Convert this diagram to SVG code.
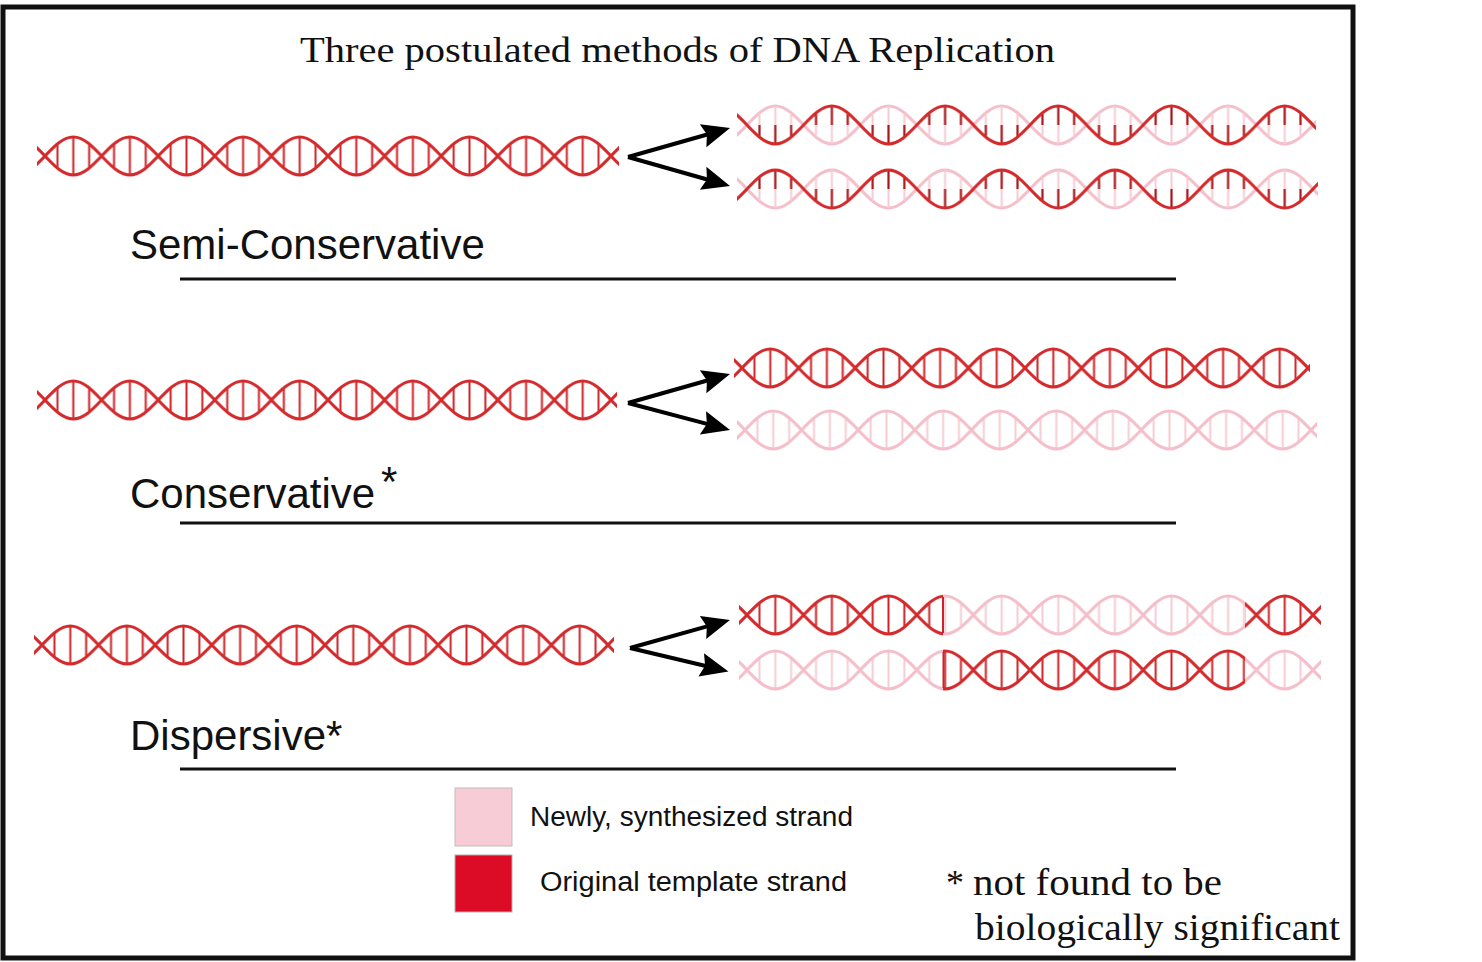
<svg xmlns="http://www.w3.org/2000/svg" width="1482" height="962" viewBox="0 0 1482 962">
<style>
.sr{stroke:#d42a2c;stroke-width:3;fill:none}
.sp{stroke:#f4bfca;stroke-width:3;fill:none}
.rr{stroke:#cf2226;stroke-width:2;fill:none}
.rd{stroke:#a81418;stroke-width:2.2;fill:none}
.rp{stroke:#f6cbd4;stroke-width:2;fill:none}
.lbl{font-family:"Liberation Sans",Arial,sans-serif;font-size:42px;fill:#111}
.leg{font-family:"Liberation Sans",Arial,sans-serif;font-size:27px;fill:#111}
.ser{font-family:"Liberation Serif","Times New Roman",serif;fill:#111}
.rule{stroke:#111;stroke-width:3}
.arr{stroke:#000;stroke-width:4;fill:none;marker-end:url(#ah)}
</style>
<defs>
<marker id="ah" markerUnits="userSpaceOnUse" markerWidth="32" markerHeight="26" refX="8" refY="12" orient="auto">
<path d="M0,0 L28,12 L0,24 L4,12 z" fill="#000"/>
</marker>
<path id="sA" d="M -28.3,-19 C -18.089,-19 -9.458,-9.977 0,0 S 18.089,19 28.3,19 S 47.142,9.977 56.6,0 S 74.689,-19 84.9,-19 S 103.742,-9.977 113.2,0 S 131.289,19 141.5,19"/>
<path id="sB" d="M -28.3,19 C -18.089,19 -9.458,9.977 0,0 S 18.089,-19 28.3,-19 S 47.142,-9.977 56.6,0 S 74.689,19 84.9,19 S 103.742,9.977 113.2,0 S 131.289,-19 141.5,-19"/>
<path id="rungs" d="M12.45,-12.1V12.1 M28.3,-19V19 M44.15,-12.1V12.1 M69.05,-12.1V12.1 M84.9,-19V19 M100.75,-12.1V12.1"/>
<path id="rungsA" d="M12.45,0V12.1 M28.3,0V19 M44.15,0V12.1 M69.05,0V-12.1 M84.9,0V-19 M100.75,0V-12.1"/>
<path id="rungsB" d="M12.45,0V-12.1 M28.3,0V-19 M44.15,0V-12.1 M69.05,0V12.1 M84.9,0V19 M100.75,0V12.1"/>
<pattern id="pRed" patternUnits="userSpaceOnUse" x="0" y="-30" width="113.2" height="60">
<g transform="translate(0,30)"><use href="#rungs" class="rr"/><use href="#sB" class="sr"/><use href="#sA" class="sr"/></g>
</pattern>
<pattern id="pPink" patternUnits="userSpaceOnUse" x="0" y="-30" width="113.2" height="60">
<g transform="translate(0,30)"><use href="#rungs" class="rp"/><use href="#sB" class="sp"/><use href="#sA" class="sp"/></g>
</pattern>
<pattern id="pSemi" patternUnits="userSpaceOnUse" x="0" y="-30" width="113.2" height="60">
<g transform="translate(0,30)"><use href="#sB" class="sp"/><use href="#rungsB" class="rp"/><use href="#rungsA" class="rd"/><use href="#sA" class="sr"/></g>
</pattern>
</defs>
<rect x="0" y="0" width="1482" height="962" fill="#fff"/>
<rect id="frame" x="3" y="7" width="1350" height="951" fill="#fff" stroke="#111" stroke-width="5"/>
<text id="title" class="ser" x="300" y="62" font-size="35" textLength="755" lengthAdjust="spacingAndGlyphs">Three postulated methods of DNA Replication</text>

<g id="semi-original" transform="translate(45,156)"><rect x="-8" y="-30" width="582" height="60" fill="url(#pRed)"/></g>
<g id="semi-daughter-1" transform="translate(747,125)"><rect x="-10" y="-30" width="579" height="60" fill="url(#pSemi)"/></g>
<g id="semi-daughter-2" transform="translate(747,189) scale(1,-1)"><rect x="-10" y="-30" width="581" height="60" fill="url(#pSemi)"/></g>
<g id="semi-label"><text class="lbl" x="130" y="259">Semi-Conservative</text><line class="rule" x1="180" y1="279" x2="1176" y2="279"/></g>

<g id="cons-original" transform="translate(45,400)"><rect x="-8" y="-30" width="580" height="60" fill="url(#pRed)"/></g>
<g id="cons-daughter-1" transform="translate(742,368)"><rect x="-8" y="-30" width="576" height="60" fill="url(#pRed)"/></g>
<g id="cons-daughter-2" transform="translate(745,430)"><rect x="-8" y="-30" width="580" height="60" fill="url(#pPink)"/></g>
<g id="cons-label"><text class="lbl" x="130" y="508">Conservative</text><text class="lbl" x="381" y="496" font-size="19">*</text><line class="rule" x1="180" y1="523" x2="1176" y2="523"/></g>

<g id="disp-original" transform="translate(42,645)"><rect x="-8" y="-30" width="580" height="60" fill="url(#pRed)"/></g>
<g id="disp-daughter-1" transform="translate(747,615)">
<rect x="-8" y="-30" width="204" height="60" fill="url(#pRed)"/>
<rect x="196" y="-30" width="302" height="60" fill="url(#pPink)"/>
<rect x="498" y="-30" width="76" height="60" fill="url(#pRed)"/>
<line x1="196" y1="-18" x2="196" y2="18" class="rr"/>
</g>
<g id="disp-daughter-2" transform="translate(747,670)">
<rect x="-8" y="-30" width="204" height="60" fill="url(#pPink)"/>
<rect x="196" y="-30" width="302" height="60" fill="url(#pRed)"/>
<rect x="498" y="-30" width="76" height="60" fill="url(#pPink)"/>
<line x1="196.5" y1="-18" x2="196.5" y2="18" class="rr"/>
</g>
<g id="disp-label"><text class="lbl" x="130" y="750">Dispersive*</text><line class="rule" x1="180" y1="769" x2="1176" y2="769"/></g>

<g id="connectors">
<path class="arr" d="M628,157 L710.8,133.5"/>
<path class="arr" d="M628,157 L710.8,180.5"/>
<path class="arr" d="M628,403 L710.8,379.5"/>
<path class="arr" d="M628,403 L710.7,424.9"/>
<path class="arr" d="M630,648 L710.7,625.4"/>
<path class="arr" d="M630,648 L709,666.8"/>
</g>

<g id="legend">
<rect x="455" y="788" width="57" height="58" fill="#f8ccd6" stroke="#bdbdbd" stroke-width="1"/>
<text class="leg" x="530" y="826" textLength="323" lengthAdjust="spacingAndGlyphs">Newly, synthesized strand</text>
<rect x="455" y="855" width="57" height="57" fill="#dc0b26" stroke="#b0b0b0" stroke-width="1"/>
<text class="leg" x="540" y="891" textLength="307" lengthAdjust="spacingAndGlyphs">Original template strand</text>
</g>
<g id="note">
<text class="ser" x="946" y="895" font-size="36">*</text>
<text class="ser" x="973" y="895" font-size="38" textLength="249" lengthAdjust="spacingAndGlyphs">not found to be</text>
<text class="ser" x="975" y="940" font-size="38" textLength="365" lengthAdjust="spacingAndGlyphs">biologically significant</text>
</g>
</svg>
